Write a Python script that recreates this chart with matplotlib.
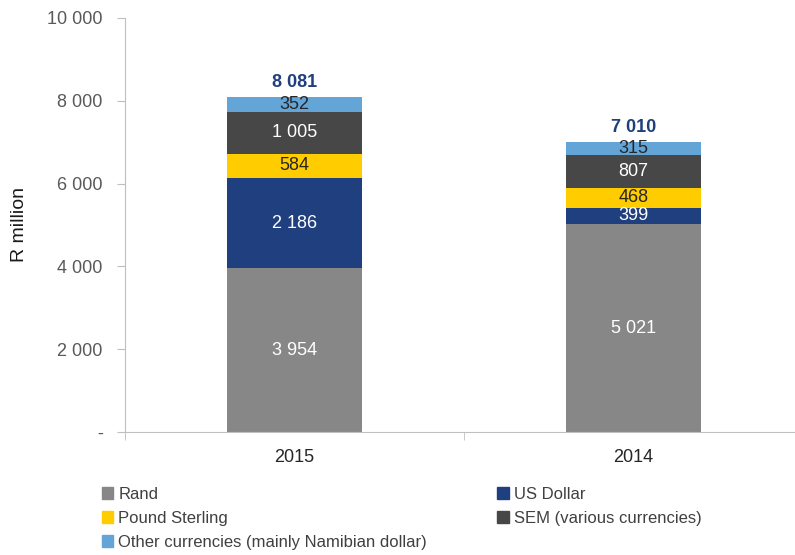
import matplotlib
matplotlib.use("Agg")
import matplotlib.pyplot as plt
from matplotlib.patches import Patch

plt.rcParams['font.family'] = ['Liberation Sans Narrow', 'Liberation Sans', 'DejaVu Sans']

# data
years = ['2015', '2014']
series = ['Rand', 'US Dollar', 'Pound Sterling', 'SEM (various currencies)',
          'Other currencies (mainly Namibian dollar)']
rand = [3954, 5021]
usd = [2186, 399]
gbp = [584, 468]
sem = [1005, 807]
other = [352, 315]
totals = [8081, 7010]

colors = ['#878787', '#1F3F7F', '#FFCC00', '#474747', '#64A5D8']
text_colors = ['white', 'white', '#262626', 'white', '#262626']

fig = plt.figure(figsize=(7.95, 5.55), dpi=100)
ax = fig.add_axes([125 / 795, 123 / 555, 678 / 795, 414 / 555])

x = [0, 1]
bottom = [0, 0]
for vals, col, tcol in zip([rand, usd, gbp, sem, other], colors, text_colors):
    ax.bar(x, vals, width=0.4, bottom=bottom, color=col)
    for i in range(2):
        ax.text(x[i], bottom[i] + vals[i] / 2, '{:,}'.format(vals[i]).replace(',', ' '),
                ha='center', va='center', color=tcol, fontsize=13)
    bottom = [bottom[i] + vals[i] for i in range(2)]

for i in range(2):
    ax.text(x[i], totals[i] + 150, '{:,}'.format(totals[i]).replace(',', ' '),
            ha='center', va='bottom', color='#1F3F7F', fontsize=13, fontweight='bold')

ax.set_xlim(-0.5, 1.5)
ax.set_ylim(0, 10000)
ax.set_yticks(range(0, 10001, 2000))
ax.set_yticklabels(['-', '2 000', '4 000', '6 000', '8 000', '10 000'])
ax.set_xticks(x)
ax.set_xticklabels(years)
ax.set_xticks([-0.5, 0.5, 1.5], minor=True)
ax.tick_params(axis='x', which='major', length=0, labelsize=13, labelcolor='#262626', pad=12)
ax.tick_params(axis='x', which='minor', length=6, color='#BFBFBF')
ax.tick_params(axis='y', length=6, color='#BFBFBF', labelsize=13, labelcolor='#595959', pad=10)
ax.set_ylabel('R million', fontsize=14, color='#1a1a1a', labelpad=14)

for s in ['top', 'right']:
    ax.spines[s].set_visible(False)
ax.spines['left'].set_color('#BFBFBF')
ax.spines['bottom'].set_color('#BFBFBF')

handles = [Patch(color=c) for c in colors]
order = [0, 2, 4, 1, 3]
fig.legend([handles[i] for i in order], [series[i] for i in order],
           loc='upper left', bbox_to_anchor=(95 / 795, 1 - 480 / 555), ncol=2,
           frameon=False, fontsize=12, labelcolor='#404040',
           handlelength=0.7, handleheight=0.7, handletextpad=0.3,
           columnspacing=4.2, labelspacing=0.55, borderaxespad=0)

fig.savefig('out.png', dpi=100)
